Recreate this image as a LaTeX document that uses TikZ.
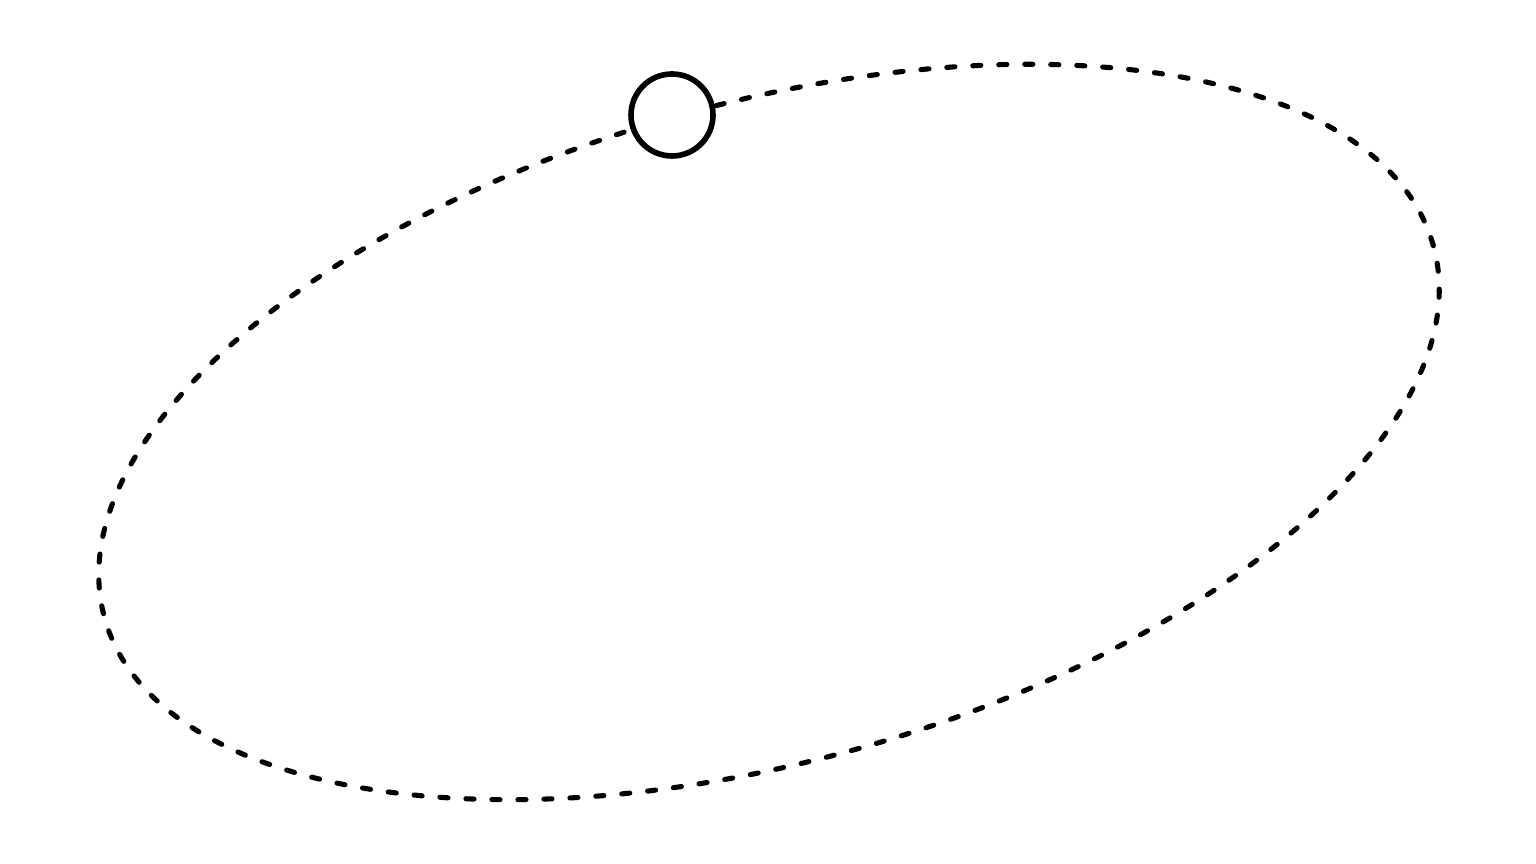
\documentclass[tikz,border=0pt]{standalone}
\usepackage{tikz}
\usetikzlibrary{positioning}

\begin{document}
\begin{tikzpicture}[x=0.02cm,y=0.02cm,
		orbit/.style={line width=2.9pt, line cap=round, dash pattern=on 4.6pt off 10.2pt},
		body/.style={draw, circle, line width=3.2pt, fill=white, minimum size=82*0.02cm, inner sep=0pt}]
			\useasboundingbox (0,0) rectangle (1536,864);
			\coordinate (O) at (769,432);

			\draw[orbit] (O) ellipse [x radius=690, y radius=329, rotate=15.7];
			\node[body] (P) at (672,749) {};
		\end{tikzpicture}
\end{document}
